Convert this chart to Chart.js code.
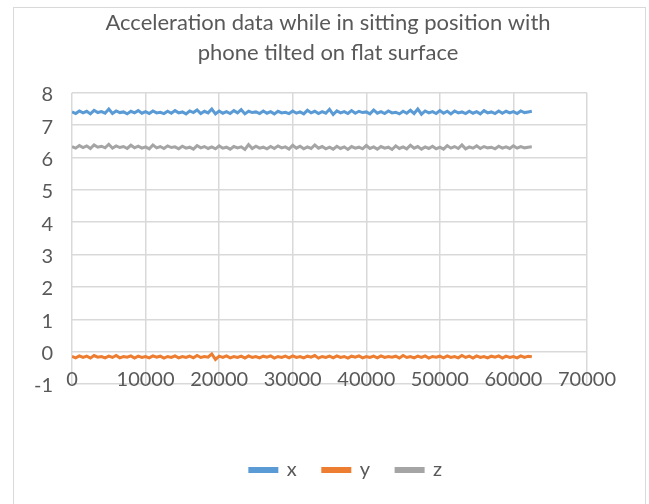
<!DOCTYPE html>
<html>
<head>
<meta charset="utf-8">
<script src="https://cdn.jsdelivr.net/npm/chart.js@4/dist/chart.umd.min.js"></script>
<style>
  html, body { margin: 0; padding: 0; background: #fff; }
  #wrap { position: relative; width: 649px; height: 504px; overflow: hidden; }
  #frame { position: absolute; left: 13px; top: 7px; width: 631px; height: 510px; border: 1px solid #d9d9d9; pointer-events: none; }
</style>
</head>
<body>
<div id="wrap">
  <canvas id="c" width="649" height="504"></canvas>
  <div id="frame"></div>
</div>
<script>
const titleLines = ["Acceleration data while in sitting position with", "phone tilted on flat surface"];
const seriesNames = ["x", "y", "z"];
const seriesColors = ["#5B9BD5", "#ED7D31", "#A5A5A5"];
const xTicks = [0, 10000, 20000, 30000, 40000, 50000, 60000, 70000];
const yTicks = [-1, 0, 1, 2, 3, 4, 5, 6, 7, 8];

const times = [
  0,500,1000,1500,2000,2500,3000,3500,4000,4500,
  5000,5500,6000,6500,7000,7500,8000,8500,9000,9500,
  10000,10500,11000,11500,12000,12500,13000,13500,14000,14500,
  15000,15500,16000,16500,17000,17500,18000,18500,19000,19500,
  20000,20500,21000,21500,22000,22500,23000,23500,24000,24500,
  25000,25500,26000,26500,27000,27500,28000,28500,29000,29500,
  30000,30500,31000,31500,32000,32500,33000,33500,34000,34500,
  35000,35500,36000,36500,37000,37500,38000,38500,39000,39500,
  40000,40500,41000,41500,42000,42500,43000,43500,44000,44500,
  45000,45500,46000,46500,47000,47500,48000,48500,49000,49500,
  50000,50500,51000,51500,52000,52500,53000,53500,54000,54500,
  55000,55500,56000,56500,57000,57500,58000,58500,59000,59500,
  60000,60500,61000,61500,62000,62500
];

const xAccel = [
  7.41,7.36,7.44,7.38,7.43,7.35,7.46,7.39,7.42,7.37,
  7.50,7.36,7.44,7.39,7.41,7.35,7.43,7.38,7.45,7.37,
  7.42,7.36,7.44,7.38,7.40,7.36,7.43,7.37,7.45,7.38,
  7.41,7.35,7.44,7.39,7.47,7.36,7.43,7.38,7.50,7.35,
  7.44,7.37,7.42,7.36,7.45,7.38,7.48,7.35,7.43,7.39,
  7.41,7.36,7.44,7.37,7.42,7.35,7.43,7.38,7.40,7.36,
  7.44,7.37,7.41,7.35,7.46,7.38,7.43,7.36,7.42,7.37,
  7.49,7.33,7.44,7.38,7.42,7.36,7.45,7.37,7.43,7.39,
  7.41,7.35,7.47,7.37,7.42,7.36,7.44,7.38,7.40,7.35,
  7.43,7.37,7.46,7.36,7.50,7.34,7.44,7.38,7.42,7.36,
  7.45,7.37,7.43,7.35,7.44,7.38,7.41,7.36,7.43,7.37,
  7.42,7.35,7.45,7.38,7.41,7.36,7.44,7.37,7.43,7.38,
  7.42,7.36,7.44,7.39,7.41,7.43
];

const yAccel = [
  -0.15,-0.19,-0.13,-0.18,-0.14,-0.20,-0.12,-0.17,-0.15,-0.19,
  -0.14,-0.18,-0.12,-0.19,-0.15,-0.17,-0.13,-0.20,-0.14,-0.18,
  -0.15,-0.19,-0.13,-0.17,-0.14,-0.20,-0.15,-0.18,-0.13,-0.19,
  -0.15,-0.18,-0.14,-0.19,-0.12,-0.18,-0.15,-0.17,-0.07,-0.24,
  -0.14,-0.18,-0.13,-0.19,-0.15,-0.18,-0.14,-0.20,-0.13,-0.18,
  -0.15,-0.19,-0.14,-0.17,-0.13,-0.20,-0.15,-0.18,-0.14,-0.19,
  -0.13,-0.18,-0.15,-0.19,-0.14,-0.17,-0.12,-0.20,-0.15,-0.18,
  -0.14,-0.19,-0.13,-0.18,-0.15,-0.20,-0.14,-0.17,-0.13,-0.19,
  -0.15,-0.18,-0.14,-0.19,-0.13,-0.18,-0.15,-0.17,-0.14,-0.20,
  -0.12,-0.18,-0.15,-0.19,-0.14,-0.18,-0.13,-0.20,-0.15,-0.17,
  -0.14,-0.19,-0.13,-0.18,-0.15,-0.19,-0.12,-0.18,-0.14,-0.20,
  -0.13,-0.18,-0.15,-0.19,-0.14,-0.17,-0.13,-0.20,-0.14,-0.18,
  -0.15,-0.19,-0.13,-0.18,-0.14,-0.16
];

const zAccel = [
  6.34,6.29,6.37,6.31,6.36,6.28,6.39,6.32,6.35,6.30,
  6.41,6.29,6.36,6.31,6.34,6.28,6.38,6.30,6.35,6.29,
  6.33,6.27,6.39,6.30,6.34,6.28,6.36,6.31,6.33,6.27,
  6.35,6.29,6.32,6.26,6.37,6.30,6.34,6.28,6.33,6.27,
  6.36,6.29,6.32,6.26,6.34,6.30,6.33,6.25,6.40,6.28,
  6.35,6.29,6.32,6.27,6.34,6.28,6.36,6.30,6.33,6.26,
  6.38,6.29,6.35,6.27,6.33,6.28,6.39,6.29,6.34,6.27,
  6.32,6.26,6.35,6.28,6.33,6.25,6.34,6.29,6.32,6.27,
  6.37,6.28,6.33,6.26,6.34,6.29,6.32,6.25,6.36,6.28,
  6.33,6.27,6.38,6.29,6.34,6.26,6.33,6.28,6.35,6.27,
  6.32,6.26,6.37,6.29,6.34,6.28,6.39,6.27,6.33,6.29,
  6.36,6.28,6.34,6.30,6.32,6.27,6.35,6.29,6.33,6.28,
  6.36,6.29,6.34,6.30,6.32,6.33
];

const seriesValues = [xAccel, yAccel, zAccel];

const datasets = seriesNames.map((name, i) => ({
  label: name,
  data: times.map((t, k) => ({ x: t, y: seriesValues[i][k] })),
  borderColor: seriesColors[i],
  backgroundColor: seriesColors[i],
  borderWidth: 3,
  pointRadius: 0,
  showLine: true,
  tension: 0
}));

const FONT = "Lato, 'Open Sans', sans-serif";
const TXT = "#595959";
const GRID = "#d9d9d9";

// x tick labels overlap the bottom gridline (Excel style); drawn at the scale's own tick pixels
const xLabelPlugin = {
  id: "xLabels",
  afterDraw(chart) {
    const xs = chart.scales.x;
    const ctx = chart.ctx;
    ctx.save();
    ctx.font = "20px " + FONT;
    ctx.fillStyle = TXT;
    ctx.textAlign = "center";
    ctx.textBaseline = "middle";
    xTicks.forEach(v => ctx.fillText(String(v), xs.getPixelForValue(v), chart.chartArea.bottom - 4));
    ctx.restore();
  }
};

const boxShift = {
  id: "boxShift",
  afterLayout(chart) {
    if (chart.legend) { chart.legend.left += 46; chart.legend.right += 46; }
    if (chart.titleBlock) { chart.titleBlock.left += 28; chart.titleBlock.right += 28; }
  }
};

new Chart(document.getElementById("c"), {
  type: "scatter",
  data: { datasets },
  plugins: [xLabelPlugin, boxShift],
  options: {
    responsive: false,
    animation: false,
    devicePixelRatio: 1,
    layout: { padding: { left: 13, right: 62, top: 7, bottom: 14 } },
    plugins: {
      title: {
        display: true,
        text: titleLines,
        color: TXT,
        font: { family: FONT, size: 22, weight: "normal", lineHeight: 1.36 },
        padding: { top: 1, bottom: 25 }
      },
      legend: {
        display: true,
        position: "bottom",
        labels: {
          color: TXT,
          font: { family: FONT, size: 20 },
          boxWidth: 27,
          boxHeight: 3,
          padding: 26
        }
      },
      tooltip: { enabled: false }
    },
    scales: {
      x: {
        type: "linear",
        min: 0,
        max: 70000,
        afterBuildTicks: (s) => { s.ticks = xTicks.map(v => ({ value: v })); },
        afterFit: (s) => { s.height = 50; },
        ticks: { display: false },
        grid: { color: GRID, lineWidth: 1.5, drawTicks: false },
        border: { display: false }
      },
      y: {
        type: "linear",
        min: -1,
        max: 8,
        afterBuildTicks: (s) => { s.ticks = yTicks.map(v => ({ value: v })); },
        afterFit: (s) => { s.width = 59; },
        ticks: {
          color: TXT,
          font: { family: FONT, size: 20 },
          padding: 19,
          labelOffset: 2,
          callback: (v) => String(v)
        },
        grid: { color: GRID, lineWidth: 1.5, drawTicks: false },
        border: { display: false }
      }
    }
  }
});
</script>
</body>
</html>
